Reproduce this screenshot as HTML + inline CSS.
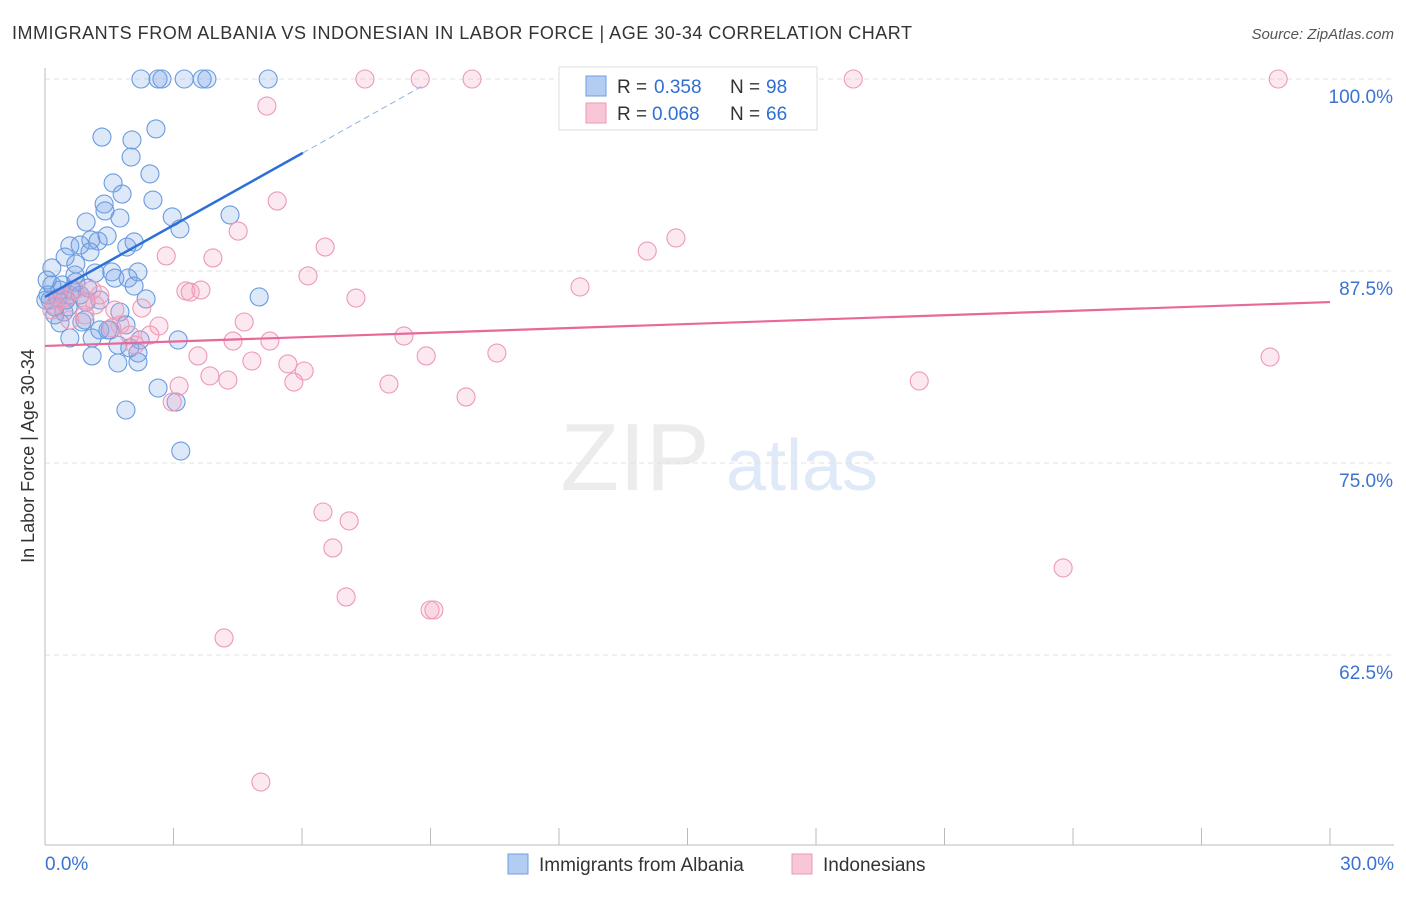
<!DOCTYPE html>
<html><head><meta charset="utf-8"><style>
body{margin:0;background:#fff;font-family:"Liberation Sans",sans-serif;}
svg text{font-family:"Liberation Sans",sans-serif;}
</style></head><body>
<svg id="chart" width="1406" height="892" xmlns="http://www.w3.org/2000/svg">
<text x="12" y="39" font-size="18" fill="#333" textLength="900" lengthAdjust="spacing">IMMIGRANTS FROM ALBANIA VS INDONESIAN IN LABOR FORCE | AGE 30-34 CORRELATION CHART</text>
<text x="1394" y="39" font-size="15" fill="#555" font-style="italic" text-anchor="end">Source: ZipAtlas.com</text>
<text x="0" y="0" font-size="18" fill="#333" text-anchor="middle" transform="translate(34,456) rotate(-90)">In Labor Force | Age 30-34</text>
<g>
<text x="635" y="490" font-size="96" fill="#ececec" font-family="Liberation Serif" text-anchor="middle">ZIP</text>
<text x="802" y="490" font-size="72" fill="#dfe9f7" text-anchor="middle">atlas</text>
</g>
<g id="grid"></g>
<g id="axes"></g>
<g id="points"></g>
<g id="lines"></g>
<g>
<rect x="559" y="67" width="258" height="63" fill="#fff" stroke="#ddd"/>
<rect x="586" y="76" width="20" height="20" fill="#b3cdf2" stroke="#6f9de0"/>
<rect x="586" y="103" width="20" height="20" fill="#f8c6d6" stroke="#e99ab4"/>
<text x="617" y="93" font-size="19" fill="#333">R =</text>
<text x="654" y="93" font-size="19" fill="#2f6fd3">0.358</text>
<text x="730" y="93" font-size="19" fill="#333">N =</text>
<text x="766" y="93" font-size="19" fill="#2f6fd3">98</text>
<text x="617" y="120" font-size="19" fill="#333">R =</text>
<text x="652" y="120" font-size="19" fill="#2f6fd3">0.068</text>
<text x="730" y="120" font-size="19" fill="#333">N =</text>
<text x="766" y="120" font-size="19" fill="#2f6fd3">66</text>
</g>
<g>
<rect x="508" y="854" width="20" height="20" fill="#b3cdf2" stroke="#6f9de0"/>
<text x="539" y="871" font-size="19" fill="#333">Immigrants from Albania</text>
<rect x="792" y="854" width="20" height="20" fill="#f8c6d6" stroke="#e99ab4"/>
<text x="823" y="871" font-size="19" fill="#333">Indonesians</text>
</g>
</svg>
<script>
const xTickLabels=["0.0%","30.0%"];
const yTicks=[100,87.5,75,62.5];
const yTickLabels=["100.0%","87.5%","75.0%","62.5%"];
const blueX=[2.24,2.64,2.73,3.25,3.67,3.78,5.21,1.33,2.03,2.01,2.59,2.45,1.59,1.80,1.38,2.52,1.75,1.40,2.97,4.32,0.96,3.15,1.07,0.58,0.82,1.24,1.45,1.91,2.08,1.05,0.47,0.72,0.16,1.17,1.56,2.17,1.94,1.63,2.08,1.00,0.72,0.35,0.58,0.12,0.23,0.44,0.96,1.28,2.36,5.00,0.86,0.35,0.58,1.10,1.75,1.52,1.70,1.98,2.22,3.11,1.10,1.70,2.17,2.17,2.64,1.89,3.06,3.17,0.16,0.07,0.30,0.49,0.63,0.82,0.23,0.93,1.28,1.89,1.47,0.02,0.05,0.40,0.70,0.54];
const blueY=[100,100,100,100,100,100,100,96.22,96.03,94.92,96.75,93.82,93.23,92.51,91.86,92.12,90.95,91.41,91.02,91.15,90.69,90.24,89.52,89.13,89.19,89.45,89.78,89.06,89.39,88.74,88.41,87.96,87.70,87.37,87.44,87.44,87.04,87.04,86.52,86.39,86.78,86.26,85.94,85.61,85.16,84.83,85.48,85.61,85.68,85.81,84.18,84.12,83.14,83.14,84.83,83.66,82.68,82.49,83.01,83.01,81.97,81.51,82.16,81.58,79.88,78.45,78.97,75.78,86.59,85.94,85.74,85.61,86.26,85.94,84.64,84.31,83.66,83.99,83.66,85.61,86.91,86.59,87.24,85.16];
const pinkX=[7.47,8.76,9.97,18.87,28.79,5.18,5.42,4.51,6.54,3.92,6.14,2.83,3.29,3.39,3.64,14.06,14.73,12.49,7.26,4.65,2.26,8.38,5.25,4.39,2.66,1.75,2.45,3.57,4.83,5.67,6.05,5.81,3.85,4.27,3.13,2.97,8.03,8.90,10.55,9.83,20.41,28.60,6.49,7.10,6.72,7.03,23.77,8.99,9.08,4.18,5.04,1.63,1.17,0.93,0.35,0.58,1.98,1.28,0.70,0.23,1.56,2.10,1.10,0.16,0.49,0.96];
const pinkY=[100,100,100,100,100,98.24,92.06,90.10,89.06,88.35,87.18,88.48,86.20,86.13,86.26,88.80,89.65,86.46,85.74,84.18,85.09,83.27,82.94,82.94,83.92,83.99,83.33,81.97,81.64,81.45,80.99,80.27,80.67,80.40,80.01,78.97,80.14,81.97,82.16,79.30,80.34,81.90,71.81,71.23,69.47,66.28,68.17,65.43,65.43,63.61,54.23,84.96,85.29,84.64,85.61,84.31,83.33,85.94,86.26,85.29,83.79,82.68,86.26,84.96,85.74,85.61];
const blueTrend=[85.81,1.558];
const pinkTrend=[82.62,0.0953];
const NS="http://www.w3.org/2000/svg";
const xS=v=>45+v/30*1285;
const yS=v=>79+(100-v)/12.5*192;
function mk(tag,attrs,parent){const e=document.createElementNS(NS,tag);for(const k in attrs)e.setAttribute(k,attrs[k]);document.getElementById(parent).appendChild(e);return e;}
yTicks.forEach((t,i)=>{
  const g=mk('line',{x1:45,x2:1394,y1:yS(t),y2:yS(t),stroke:'#e2e2e2','stroke-dasharray':'5,4'},'grid');
  
  
  const tx=mk('text',{x:1393,y:yS(t)+24,'font-size':19,fill:'#3b73d0','text-anchor':'end'},'axes');
  tx.textContent=yTickLabels[i];
  
  
});
const ax=mk('line',{x1:45,x2:45,y1:68,y2:845,stroke:'#bbb'},'axes');


const bx=mk('line',{x1:45,x2:1394,y1:845,y2:845,stroke:'#bbb'},'axes');


for(let i=0;i<=10;i++){const t=mk('line',{x1:xS(i*3),x2:xS(i*3),y1:828,y2:845,stroke:'#bbb'},'axes');
  
  }
[[0,'start',45],[30,'end',1394]].forEach((a,i)=>{const t=mk('text',{x:a[2],y:870,'font-size':19,fill:'#3b73d0','text-anchor':a[1]},'axes');t.textContent=xTickLabels[i];
  
  });
blueX.forEach((x,i)=>{const c=mk('circle',{cx:xS(x),cy:yS(blueY[i]),r:9,fill:'rgba(120,165,230,0.25)',stroke:'#6a9be0','stroke-width':1.1},'points');
  
  });
pinkX.forEach((x,i)=>{const c=mk('circle',{cx:xS(x),cy:yS(pinkY[i]),r:9,fill:'rgba(245,165,195,0.25)',stroke:'#ec9ab5','stroke-width':1.1},'points');
  
  });
const bf=x=>blueTrend[0]+blueTrend[1]*x, pf=x=>pinkTrend[0]+pinkTrend[1]*x;
const l1=mk('line',{x1:xS(0),y1:yS(bf(0)),x2:xS(6.02),y2:yS(bf(6.02)),stroke:'#2d6fd6','stroke-width':2.5},'lines');


const l2=mk('line',{x1:xS(6.02),y1:yS(bf(6.02)),x2:xS(8.8),y2:yS(bf(8.8)),stroke:'#8fb0e6','stroke-width':1,'stroke-dasharray':'6,4'},'lines');


const l3=mk('line',{x1:xS(0),y1:yS(pf(0)),x2:xS(30),y2:yS(pf(30)),stroke:'#e8689a','stroke-width':2.2},'lines');


</script>
</body></html>
